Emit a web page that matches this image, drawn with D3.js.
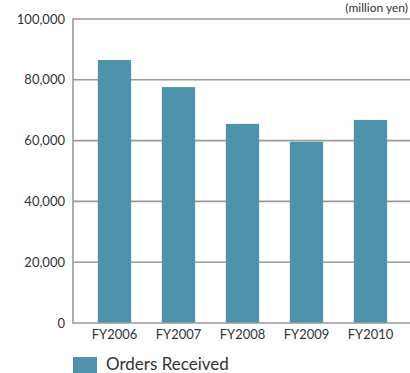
<!DOCTYPE html>
<html>
<head>
<meta charset="utf-8">
<script src="https://cdn.jsdelivr.net/npm/d3@7"></script>
<style>
  body { margin: 0; background: #fff; }
  svg { display: block; font-family: Lato, "Open Sans", sans-serif; }
</style>
</head>
<body>
<svg id="chart" width="410" height="373"></svg>
<script>
// données (millions de yens)
const years  = ['FY2006', 'FY2007', 'FY2008', 'FY2009', 'FY2010']
const orders = [86500, 77600, 65500, 59600, 66800]
const yTicks = [0, 20000, 40000, 60000, 80000, 100000]

const W = 410, H = 373
const svg = d3.select('#chart')

const x = d3.scaleBand().domain(years).range([82.5, 402.5])
  .paddingInner(0.48).paddingOuter(0.24)
const y = d3.scaleLinear().domain([0, 100000]).range([323, 19])

// grille
svg.append('g').selectAll('line').data(yTicks.slice(1)).join('line')
  .attr('x1', 73).attr('x2', W)
  .attr('y1', d => y(d)).attr('y2', d => y(d))
  .attr('stroke', '#9a9a9c').attr('stroke-width', 1.6)

// barres
svg.append('g').selectAll('rect').data(orders).join('rect')
  .attr('x', (d, i) => x(years[i]))
  .attr('width', x.bandwidth())
  .attr('y', d => y(d))
  .attr('height', d => y(0) - y(d))
  .attr('fill', '#4f93aa')

// axes
svg.append('line').attr('x1', 73).attr('x2', 73).attr('y1', 18.2).attr('y2', 323.8)
  .attr('stroke', '#9a9a9c').attr('stroke-width', 1.6)
svg.append('line').attr('x1', 73).attr('x2', W).attr('y1', y(0)).attr('y2', y(0))
  .attr('stroke', '#9a9a9c').attr('stroke-width', 1.6)

// étiquettes Y
svg.append('g').selectAll('text').data(yTicks).join('text')
  .attr('x', 65).attr('y', d => y(d) + 4.5)
  .attr('text-anchor', 'end').attr('font-size', 13).attr('fill', '#333')
  .text(d => d3.format(',')(d))

// étiquettes X
svg.append('g').selectAll('text').data(years).join('text')
  .attr('x', d => x(d) + x.bandwidth() / 2).attr('y', 339)
  .attr('text-anchor', 'middle').attr('font-size', 13).attr('fill', '#333')
  .text(d => d)

// unité
svg.append('text').attr('x', 408).attr('y', 12)
  .attr('text-anchor', 'end').attr('font-size', 12).attr('fill', '#333')
  .text('(million yen)')

// légende
svg.append('rect').attr('x', 73).attr('y', 357).attr('width', 24).attr('height', 16)
  .attr('fill', '#4f93aa')
svg.append('text').attr('x', 106).attr('y', 370)
  .attr('font-size', 17).attr('fill', '#333')
  .text('Orders Received')
</script>
</body>
</html>
